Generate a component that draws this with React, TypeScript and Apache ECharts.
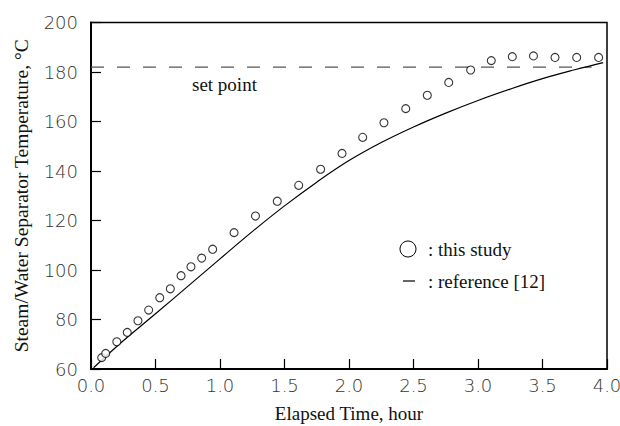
import React, { useEffect, useRef } from "react";
import * as echarts from "echarts";

// Measured data: "this study" (open circles)
const studyTime = [0.083, 0.114, 0.2, 0.281, 0.364, 0.447, 0.533, 0.615, 0.698, 0.775, 0.858, 0.943, 1.109, 1.275, 1.444, 1.61, 1.78, 1.946, 2.106, 2.271, 2.44, 2.607, 2.773, 2.943, 3.103, 3.266, 3.43, 3.597, 3.765, 3.935];
const studyTemp = [64.6, 66.3, 71.0, 74.8, 79.5, 83.8, 88.8, 92.4, 97.7, 101.3, 104.8, 108.4, 115.1, 121.8, 127.8, 134.2, 140.7, 147.1, 153.6, 159.5, 165.2, 170.6, 175.8, 180.8, 184.6, 186.2, 186.5, 185.9, 185.9, 185.9];

// Reference [12] (solid curve)
const refTime = [0.02, 0.25, 0.5, 0.75, 1.0, 1.25, 1.5, 1.75, 2.0, 2.25, 2.5, 2.75, 3.0, 3.25, 3.5, 3.75, 3.97];
const refTemp = [60.5, 71.4, 82.3, 93.4, 104.5, 115.5, 125.9, 135.5, 144.2, 151.5, 157.8, 163.4, 168.5, 173.1, 177.3, 180.9, 183.8];

// Set point (dashed)
const setPointTime = [0.0, 3.88];
const setPointTemp = [182, 182];

const xTicks = { min: 0, max: 4, interval: 0.5 };
const yTicks = { min: 60, max: 200, interval: 20 };

const SERIF = "'Liberation Serif', 'Times New Roman', serif";
const SANS = "'DejaVu Sans', sans-serif";

export default function App() {
  const ref = useRef<HTMLDivElement>(null);
  useEffect(() => {
    if (!ref.current) return;
    const chart = echarts.init(ref.current, undefined, { renderer: "svg" });
    const zip = (a: number[], b: number[]) => a.map((v, i) => [v, b[i]]);
    chart.setOption({
      animation: false,
      backgroundColor: "#fff",
      grid: {
        left: 91,
        right: 13,
        top: 22.5,
        bottom: 57,
        containLabel: false,
        outerBoundsMode: "none",
        show: true,
        borderColor: "#000",
        borderWidth: 1.5,
        backgroundColor: "transparent",
      },
      xAxis: {
        type: "value",
        min: xTicks.min,
        max: xTicks.max,
        interval: xTicks.interval,
        name: "Elapsed Time, hour",
        nameLocation: "middle",
        nameGap: 35,
        nameTextStyle: { fontFamily: SERIF, fontSize: 19, color: "#111" },
        axisLine: { show: true, lineStyle: { color: "#000", width: 2 } },
        axisTick: { show: true, inside: true, length: 10, lineStyle: { color: "#000", width: 1.2 } },
        axisLabel: {
          fontFamily: SANS,
          fontWeight: 200,
          fontSize: 18,
          color: "#333",
          margin: 7,
          formatter: (v: number) => v.toFixed(1),
        },
        splitLine: { show: false },
      },
      yAxis: {
        type: "value",
        min: yTicks.min,
        max: yTicks.max,
        interval: yTicks.interval,
        name: "Steam/Water Separator Temperature, °C",
        nameLocation: "middle",
        nameGap: 60,
        nameRotate: 90,
        nameTextStyle: { fontFamily: SERIF, fontSize: 19.5, color: "#111" },
        axisLine: { show: true, lineStyle: { color: "#000", width: 2 } },
        axisTick: { show: true, inside: true, length: 10, lineStyle: { color: "#000", width: 1.2 } },
        axisLabel: {
          fontFamily: SANS,
          fontWeight: 200,
          fontSize: 18,
          color: "#333",
          margin: 13,
        },
        splitLine: { show: false },
      },
      series: [
        {
          name: "set point",
          type: "line",
          data: zip(setPointTime, setPointTemp),
          showSymbol: false,
          lineStyle: { color: "#555", width: 1.2, type: [13, 13] },
          z: 1,
        },
        {
          name: "reference [12]",
          type: "line",
          data: zip(refTime, refTemp),
          smooth: 0.4,
          showSymbol: false,
          lineStyle: { color: "#000", width: 1.2 },
          z: 2,
        },
        {
          name: "this study",
          type: "scatter",
          data: zip(studyTime, studyTemp),
          symbol: "circle",
          symbolSize: 8,
          itemStyle: { color: "#fff", borderColor: "#000", borderWidth: 1.1 },
          z: 3,
        },
      ],
      graphic: [
        {
          type: "text",
          left: 192,
          top: 75,
          style: { text: "set point", fontFamily: SERIF, fontSize: 19, fill: "#111" },
        },
        {
          type: "circle",
          shape: { cx: 408, cy: 249, r: 8 },
          style: { fill: "none", stroke: "#000", lineWidth: 1 },
        },
        {
          type: "text",
          x: 428,
          y: 249,
          style: { text: ": this study", fontFamily: SERIF, fontSize: 19, fill: "#111", verticalAlign: "middle" },
        },
        {
          type: "line",
          shape: { x1: 403, y1: 281, x2: 415, y2: 281 },
          style: { stroke: "#000", lineWidth: 1.2 },
        },
        {
          type: "text",
          x: 428,
          y: 281,
          style: { text: ": reference [12]", fontFamily: SERIF, fontSize: 19, fill: "#111", verticalAlign: "middle" },
        },
      ],
    });
    return () => chart.dispose();
  }, []);
  return (
    <div
      ref={ref}
      style={{ position: "fixed", left: 0, top: 0, width: 620, height: 426 }}
    />
  );
}
